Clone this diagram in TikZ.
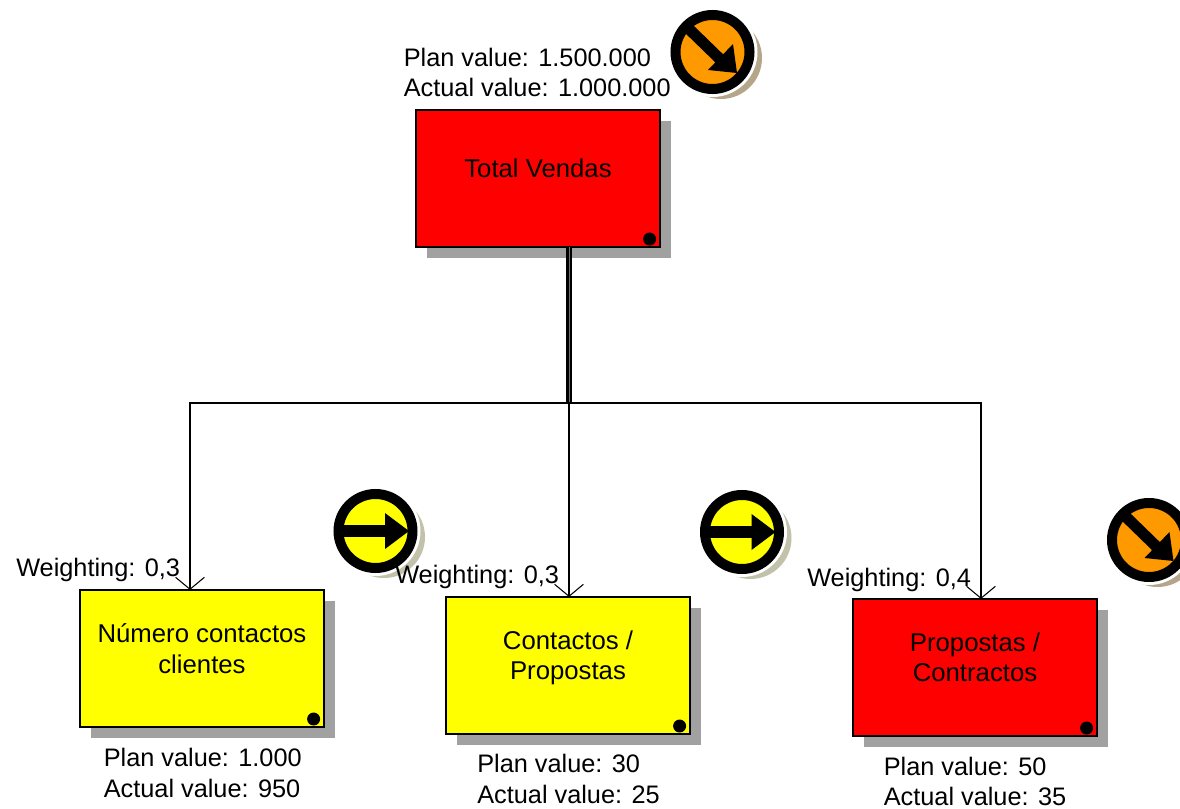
\documentclass[tikz,border=0pt]{standalone}
\usepackage{fontspec}
\setmainfont{Liberation Sans}
\usetikzlibrary{arrows.meta,shadows}

\definecolor{boxred}{HTML}{FF0000}
\definecolor{boxyellow}{HTML}{FFFF00}
\definecolor{signalorange}{HTML}{FF9900}
\definecolor{shadowtan}{HTML}{B5A58B}
\definecolor{shadowkhaki}{HTML}{C2C2AA}

\tikzset{
    kpibox/.style={draw=black, line width=1.4pt, minimum width=6.1cm, minimum height=3.425cm,
        align=center, outer sep=0pt, text depth=0.5cm, font=\fontsize{18.3}{21.5}\selectfont,
        drop shadow={shadow xshift=0.275cm, shadow yshift=-0.275cm, fill=black!37, opacity=1}},
    kpilabel/.style={anchor=west, align=left, inner sep=0pt, font=\fontsize{18}{21.5}\selectfont},
    trunk/.style={line width=1.6pt, double=black!55, double distance=0.4pt},
    branch/.style={line width=0.75pt},
    weightarrow/.style={branch, -{Straight Barb[length=0.3cm, width=0.72cm, line width=0.75pt]}},
    iconring/.style={line width=0.25cm}
}

\begin{document}
\begin{tikzpicture}[x=0.025cm, y=-0.025cm]
    \useasboundingbox (0,0) rectangle (1180,809);
    \clip (0,0) rectangle (1180,809);

    % boxes
    \node[kpibox, fill=boxred] (total) at (538,178.5) {Total Vendas};
    \node[kpibox, fill=boxyellow] (numero) at (202,658.5) {Número contactos\\clientes};
    \node[kpibox, fill=boxyellow] (contactos) at (568,665.5) {Contactos /\\Propostas};
    \node[kpibox, fill=boxred] (propostas) at (975,667.5) {Propostas /\\Contractos};

    \fill ([xshift=-0.26cm, yshift=0.2cm]total.south east) circle[radius=6.5];
    \fill ([xshift=-0.26cm, yshift=0.2cm]numero.south east) circle[radius=6.5];
    \fill ([xshift=-0.26cm, yshift=0.2cm]contactos.south east) circle[radius=6.5];
    \fill ([xshift=-0.26cm, yshift=0.2cm]propostas.south east) circle[radius=6.5];

    % connectors
    \coordinate (junction) at (569,403);
    \draw[trunk] (junction |- total.south) -- (junction);
    \draw[weightarrow] (junction) -| ([xshift=-0.3cm]numero.north);
    \draw[weightarrow, line width=1.1pt] (junction) -- (junction |- contactos.north);
    \draw[weightarrow] (junction) -| ([xshift=0.15cm]propostas.north);

    % texts
    \node[kpilabel] (totalvalues) at (403.5,72.5) {Plan value: 1.500.000\\Actual value: 1.000.000};
    \node[kpilabel] (numerovalues) at (103.5,773) {Plan value: 1.000\\Actual value: 950};
    \node[kpilabel] (contactosvalues) at (477,779) {Plan value: 30\\Actual value: 25};
    \node[kpilabel] (propostasvalues) at (883.5,781.5) {Plan value: 50\\Actual value: 35};

    % signals
    \fill[shadowtan] (721,58) circle[radius=41];
    \fill[white] (712.5,52) circle[radius=45];
    \filldraw[fill=signalorange, iconring] (712.5,52) circle[radius=37];
    \draw[line width=0.28cm] (688,28) -- (723,62);
    \fill (737,73) -- (733,44) -- (708,70) -- cycle;

    \fill[shadowkhaki] (384,537) circle[radius=41];
    \fill[white] (375.5,531) circle[radius=45];
    \filldraw[fill=boxyellow, iconring] (375.5,531) circle[radius=37];
    \draw[line width=0.28cm] (334,531) -- (390,531);
    \fill (409,531) -- (385,513) -- (385,549) -- cycle;

    \fill[shadowkhaki] (750.5,538) circle[radius=41];
    \fill[white] (742,532) circle[radius=45];
    \filldraw[fill=boxyellow, iconring] (742,532) circle[radius=37];
    \draw[line width=0.28cm] (701,532) -- (757,532);
    \fill (775.5,532) -- (751.5,514) -- (751.5,550) -- cycle;

    \fill[shadowtan] (1157.5,546) circle[radius=41];
    \fill[white] (1149,540) circle[radius=45];
    \filldraw[fill=signalorange, iconring] (1149,540) circle[radius=37];
    \draw[line width=0.28cm] (1125,516) -- (1160,550);
    \fill (1173.5,561) -- (1169.5,532) -- (1144.5,558) -- cycle;

    % weightings
    \node[kpilabel] (numeroweight) at (16,570) {Weighting: 0,3};
    \node[kpilabel] (contactosweight) at (395,577) {Weighting: 0,3};
    \node[kpilabel] (propostasweight) at (807,580) {Weighting: 0,4};
\end{tikzpicture}
\end{document}
